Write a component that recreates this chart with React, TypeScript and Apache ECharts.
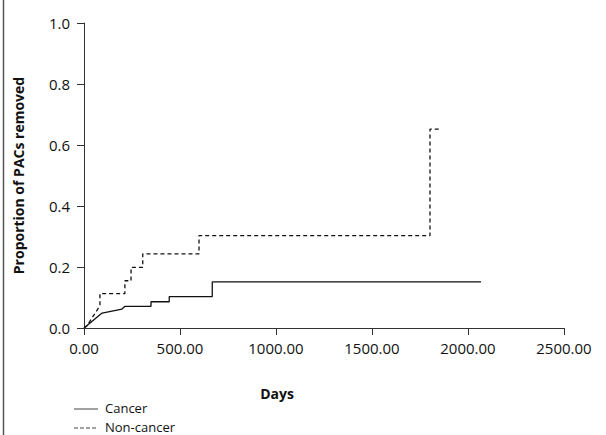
import React, { useEffect, useRef } from "react";
import * as echarts from "echarts";

const xTicks = [0, 500, 1000, 1500, 2000, 2500];
const yTicks = [0, 0.2, 0.4, 0.6, 0.8, 1.0];

const cancerDays = [0, 94, 198, 213, 349, 349, 444, 444, 668, 668, 2068];
const cancerProp = [0, 0.049, 0.062, 0.071, 0.071, 0.086, 0.086, 0.103, 0.103, 0.151, 0.151];

const nonCancerDays = [0, 14, 83, 83, 213, 213, 245, 245, 306, 306, 599, 599, 1802, 1802, 1850];
const nonCancerProp = [0, 0.006, 0.073, 0.113, 0.113, 0.155, 0.155, 0.199, 0.199, 0.243, 0.243, 0.303, 0.303, 0.652, 0.652];

const legendNames = ["Cancer", "Non-cancer"];

const FONT = "Open Sans";

export default function App() {
  const ref = useRef<HTMLDivElement>(null);
  useEffect(() => {
    if (!ref.current) return;
    const chart = echarts.init(ref.current, undefined, { renderer: "svg" });
    const zip = (xs: number[], ys: number[]) => xs.map((x, i) => [x, ys[i]]);
    chart.setOption({
      animation: false,
      backgroundColor: "#ffffff",
      grid: { left: 84, right: 42, top: 23, bottom: 107, containLabel: false, outerBoundsMode: "none" },
      xAxis: {
        type: "value",
        min: xTicks[0],
        max: xTicks[xTicks.length - 1],
        interval: 500,
        axisLine: { show: true, lineStyle: { color: "#333", width: 1 } },
        axisTick: { show: true, length: 7, lineStyle: { color: "#333" } },
        splitLine: { show: false },
        axisLabel: {
          color: "#111",
          fontFamily: FONT,
          fontSize: 15,
          margin: 12,
          formatter: (v: number) => v.toFixed(2),
        },
      },
      yAxis: {
        type: "value",
        min: yTicks[0],
        max: yTicks[yTicks.length - 1],
        interval: 0.2,
        name: "Proportion of PACs removed",
        nameLocation: "middle",
        nameGap: 59,
        nameTextStyle: { color: "#111", fontFamily: FONT, fontSize: 14, fontWeight: "bold" },
        axisLine: { show: true, lineStyle: { color: "#333", width: 1 } },
        axisTick: { show: true, length: 7, lineStyle: { color: "#333" } },
        splitLine: { show: false },
        axisLabel: {
          color: "#111",
          fontFamily: FONT,
          fontSize: 15,
          margin: 14,
          formatter: (v: number) => v.toFixed(1),
        },
      },
      series: [
        {
          name: legendNames[0],
          type: "line",
          data: zip(cancerDays, cancerProp),
          showSymbol: false,
          lineStyle: { color: "#111", width: 1.3, type: "solid" },
        },
        {
          name: legendNames[1],
          type: "line",
          data: zip(nonCancerDays, nonCancerProp),
          showSymbol: false,
          lineStyle: { color: "#111", width: 1.3, type: [4, 3] },
        },
      ],
      graphic: [
        { type: "line", shape: { x1: 3.5, y1: 0, x2: 3.5, y2: 435 }, style: { stroke: "#555", lineWidth: 1.5 } },
        {
          type: "text",
          x: 277,
          y: 393,
          style: { text: "Days", fontFamily: FONT, fontSize: 14, fontWeight: "bold", fill: "#111", align: "center", verticalAlign: "middle" },
        },
        { type: "line", shape: { x1: 74, y1: 409, x2: 98, y2: 409 }, style: { stroke: "#444", lineWidth: 1 } },
        {
          type: "text",
          x: 105,
          y: 408,
          style: { text: legendNames[0], fontFamily: FONT, fontSize: 13, fill: "#111", align: "left", verticalAlign: "middle" },
        },
        { type: "line", shape: { x1: 74, y1: 428, x2: 98, y2: 428 }, style: { stroke: "#444", lineWidth: 1, lineDash: [4, 2] } },
        {
          type: "text",
          x: 105,
          y: 426.5,
          style: { text: legendNames[1], fontFamily: FONT, fontSize: 13, fill: "#111", align: "left", verticalAlign: "middle" },
        },
      ],
    });
    return () => chart.dispose();
  }, []);
  return <div ref={ref} style={{ width: 606, height: 435, position: "absolute", left: 0, top: 0 }} />;
}
